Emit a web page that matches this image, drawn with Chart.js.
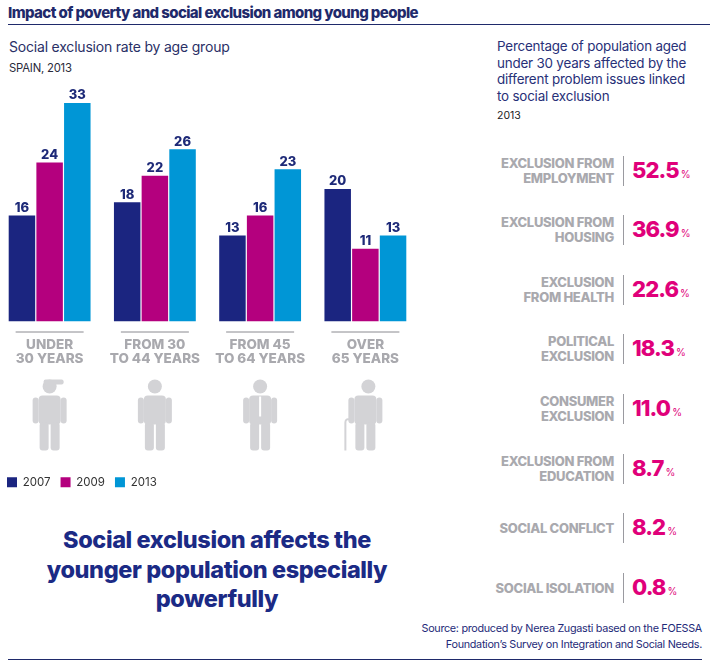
<!DOCTYPE html>
<html lang="en">
<head>
<meta charset="UTF-8">
<title>Impact of poverty and social exclusion among young people</title>
<script src="https://cdn.jsdelivr.net/npm/chart.js"></script>
<style>
  body { margin: 0; width: 710px; height: 666px; background: #fff; font-family: Inter, "Noto Sans", sans-serif; position: relative; overflow: hidden; }
  .abs { position: absolute; }
  #title { left: 8px; top: 3px; font-size: 15px; font-weight: 800; color: #1f2a6b; letter-spacing: -0.6px; white-space: nowrap; }
  #titleLine { left: 8px; top: 24px; width: 702px; height: 1px; background: #1f2a6b; }
  #subtitle { left: 9px; top: 38px; font-size: 14px; color: #2a3066; letter-spacing: -0.2px; }
  #subnote { left: 9px; top: 61px; font-size: 11.3px; color: #2a2a3a; letter-spacing: -0.2px; }
  #rightHead { left: 497px; top: 38px; font-size: 13.4px; line-height: 16.6px; color: #283078; letter-spacing: -0.2px; }
  #rightYear { left: 497px; top: 109px; font-size: 10.5px; color: #222; }
  .row { left: 440px; width: 270px; height: 30px; }
  .row .lab { position: absolute; right: 96px; top: 50%; transform: translateY(-50%); text-align: right; font-size: 13px; line-height: 15px; font-weight: 800; color: #a9a9ae; letter-spacing: -0.3px; white-space: nowrap; }
  .row .sep { position: absolute; left: 183px; top: 0; width: 1px; height: 30px; background: #9a9aa0; }
  .row .val { position: absolute; left: 192px; top: 50%; transform: translateY(-52%); font-size: 22px; font-weight: 800; color: #e0007a; letter-spacing: -0.9px; white-space: nowrap; }
  .row .val small { font-size: 10px; font-weight: 400; letter-spacing: 0; margin-left: 2px; }
  #headline { left: 0; width: 434px; top: 525px; text-align: center; font-size: 23.5px; line-height: 29.5px; font-weight: 800; color: #1b2a85; letter-spacing: -0.4px; }
  #source { right: 8px; top: 621px; text-align: right; font-size: 10.8px; line-height: 16px; color: #1e2a78; letter-spacing: -0.3px; }
  #bottomLine { left: 8px; top: 659px; width: 694px; height: 1px; background: #1f2a6b; }
  #chartBox { left: -3px; top: 78px; width: 421px; height: 425px; }
</style>
</head>
<body>
<div id="title" class="abs">Impact of poverty and social exclusion among young people</div>
<div id="titleLine" class="abs"></div>
<div id="subtitle" class="abs">Social exclusion rate by age group</div>
<div id="subnote" class="abs">SPAIN, 2013</div>
<div id="rightHead" class="abs">Percentage of population aged<br>under 30 years affected by the<br>different problem issues linked<br>to social exclusion</div>
<div id="rightYear" class="abs">2013</div>
<div id="rows"></div>
<div id="headline" class="abs">Social exclusion affects the<br>younger population especially<br>powerfully</div>
<div id="source" class="abs">Source: produced by Nerea Zugasti based on the FOESSA<br>Foundation’s Survey on Integration and Social Needs.</div>
<div id="bottomLine" class="abs"></div>
<div id="chartBox" class="abs"><canvas id="rateChart"></canvas></div>

<script>
// age groups on the x axis (two lines each)
const ageGroups = [['UNDER', '30 YEARS'], ['FROM 30', 'TO 44 YEARS'], ['FROM 45', 'TO 64 YEARS'], ['OVER', '65 YEARS']];
const years = ['2007', '2009', '2013'];
const rate2007 = [16, 18, 13, 20];
const rate2009 = [24, 22, 16, 11];
const rate2013 = [33, 26, 23, 13];
const yearColors = ['#1b2580', '#b4007e', '#0096d6'];

// right hand panel, under 30s, 2013
const issueLabels = [
    ['EXCLUSION FROM', 'EMPLOYMENT'],
    ['EXCLUSION FROM', 'HOUSING'],
    ['EXCLUSION', 'FROM HEALTH'],
    ['POLITICAL', 'EXCLUSION'],
    ['CONSUMER', 'EXCLUSION'],
    ['EXCLUSION FROM', 'EDUCATION'],
    ['SOCIAL CONFLICT'],
    ['SOCIAL ISOLATION']
];
const issueValues = [52.5, 36.9, 22.6, 18.3, 11.0, 8.7, 8.2, 0.8];

// build the list of issues
const rowsEl = document.getElementById('rows');
issueLabels.forEach((lab, i) => {
    const row = document.createElement('div');
    row.className = 'row abs';
    row.style.top = (155.5 + i * 59.6) + 'px';
    row.innerHTML = `
        <div class="lab">${lab.join('<br>')}</div>
        <div class="sep"></div>
        <div class="val">${issueValues[i].toFixed(1)}<small>%</small></div>`;
    rowsEl.appendChild(row);
});

// value labels above bars, little rules and figures under the axis
const decorations = {
    id: 'decorations',
    afterDatasetsDraw(chart) {
        const ctx = chart.ctx;
        ctx.save();
        ctx.font = '800 13px Inter, sans-serif';
        ctx.fillStyle = '#1e2a78';
        ctx.textAlign = 'center';
        ctx.textBaseline = 'bottom';
        chart.data.datasets.forEach((ds, di) => {
            chart.getDatasetMeta(di).data.forEach((bar, i) => {
                ctx.fillText(ds.data[i], bar.x, bar.y - 1);
            });
        });
        ctx.restore();
    },
    afterDraw(chart) {
        const ctx = chart.ctx;
        const xs = chart.scales.x;
        const base = chart.chartArea.bottom;
        ctx.save();
        ageGroups.forEach((g, i) => {
            const cx = xs.getPixelForValue(i);
            // short rule above the label
            ctx.strokeStyle = '#8a8a90';
            ctx.lineWidth = 1;
            ctx.beginPath();
            ctx.moveTo(cx - 34, base + 10.5);
            ctx.lineTo(cx + 34, base + 10.5);
            ctx.stroke();
            drawPerson(ctx, cx, base + 57, i);
        });
        ctx.restore();
    }
};

function rr(ctx, x, y, w, h, r) {
    ctx.beginPath();
    ctx.roundRect(x, y, w, h, r);
    ctx.fill();
}

function drawPerson(ctx, cx, top, kind) {
    ctx.fillStyle = '#d3d3d6';
    const hunch = kind === 3 ? 3 : 0;
    // head
    ctx.beginPath();
    ctx.arc(cx + hunch, top + 8, 7, 0, Math.PI * 2);
    ctx.fill();
    if (kind === 0) rr(ctx, cx - 6, top + 1, 20, 5, 2); // cap
    // torso
    rr(ctx, cx - 11, top + 17, 22, 29, 4);
    // arms
    rr(ctx, cx - 17, top + 19, 6, 26, 3);
    rr(ctx, cx + 11, top + 19, 6, 26, 3);
    // legs
    rr(ctx, cx - 10, top + 44, 9, 28, 3);
    rr(ctx, cx + 1, top + 44, 9, 28, 3);
    if (kind === 2) {
        // tie
        ctx.fillStyle = '#ffffff';
        ctx.fillRect(cx - 1, top + 18, 2, 20);
    }
    if (kind === 3) {
        // walking stick
        ctx.strokeStyle = '#d3d3d6';
        ctx.lineWidth = 2;
        ctx.beginPath();
        ctx.moveTo(cx - 20, top + 72);
        ctx.lineTo(cx - 20, top + 44);
        ctx.quadraticCurveTo(cx - 20, top + 40, cx - 16, top + 41);
        ctx.stroke();
    }
}

const ctx = document.getElementById('rateChart').getContext('2d');
new Chart(ctx, {
    type: 'bar',
    data: {
        labels: ageGroups,
        datasets: [
            { label: years[0], data: rate2007, backgroundColor: yearColors[0] },
            { label: years[1], data: rate2009, backgroundColor: yearColors[1] },
            { label: years[2], data: rate2013, backgroundColor: yearColors[2] }
        ]
    },
    options: {
        responsive: true,
        maintainAspectRatio: false,
        animation: false,
        layout: { padding: { top: 5, left: 0, right: 0, bottom: 5 } },
        datasets: { bar: { categoryPercentage: 0.789, barPercentage: 0.957 } },
        plugins: {
            legend: {
                position: 'bottom',
                align: 'start',
                labels: {
                    boxWidth: 10,
                    boxHeight: 10,
                    padding: 10,
                    color: '#333',
                    font: { family: 'Inter, sans-serif', size: 11.5 }
                }
            },
            tooltip: { enabled: false }
        },
        scales: {
            y: { display: false, min: 0, max: 36 },
            x: {
                grid: { display: false },
                border: { display: false },
                ticks: {
                    color: '#a9a9ae',
                    padding: 8,
                    maxRotation: 0,
                    font: { family: 'Inter, sans-serif', size: 13.5, weight: '800', lineHeight: 1.05 }
                },
                afterFit(scale) { scale.height = 145; }
            }
        }
    },
    plugins: [decorations]
});
</script>
</body>
</html>
